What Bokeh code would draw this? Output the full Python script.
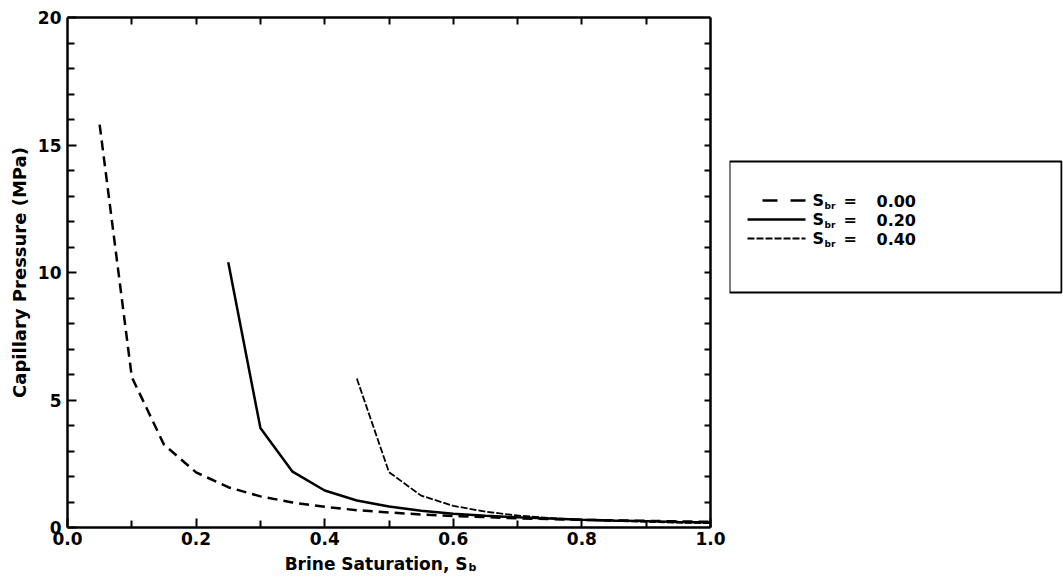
from bokeh.plotting import figure
from bokeh.layouts import row
from bokeh.models import Range1d, LinearAxis, FixedTicker, PrintfTickFormatter, Label
from bokeh.core.properties import value
from bokeh.embed import file_html
from bokeh.resources import INLINE

# ---------------- data ----------------
sat_00 = [0.05, 0.10, 0.15, 0.20, 0.25, 0.30, 0.35, 0.40, 0.45, 0.50,
          0.55, 0.60, 0.65, 0.70, 0.75, 0.80, 0.85, 0.90, 0.95, 1.00]
pc_00 = [15.8, 5.9, 3.25, 2.16, 1.58, 1.22, 0.98, 0.81, 0.68, 0.59,
         0.51, 0.45, 0.41, 0.36, 0.33, 0.30, 0.28, 0.26, 0.24, 0.22]

sat_20 = [0.25, 0.30, 0.35, 0.40, 0.45, 0.50, 0.55, 0.60, 0.65, 0.70,
          0.75, 0.80, 0.85, 0.90, 0.95, 1.00]
pc_20 = [10.4, 3.9, 2.19, 1.45, 1.06, 0.82, 0.66, 0.54, 0.46, 0.40,
         0.35, 0.30, 0.27, 0.25, 0.22, 0.20]

sat_40 = [0.45, 0.50, 0.55, 0.60, 0.65, 0.70, 0.75, 0.80, 0.85, 0.90, 0.95, 1.00]
pc_40 = [5.84, 2.17, 1.25, 0.85, 0.62, 0.47, 0.37, 0.30, 0.26, 0.22, 0.19, 0.17]

sbr_labels = ["0.00", "0.20", "0.40"]

x_ticks = [0.0, 0.2, 0.4, 0.6, 0.8, 1.0]
x_minor = [0.1, 0.3, 0.5, 0.7, 0.9]
x_all = [0.1, 0.2, 0.3, 0.4, 0.5, 0.6, 0.7, 0.8, 0.9]
y_ticks = [0, 5, 10, 15, 20]
y_minor = [1, 2, 3, 4, 6, 7, 8, 9, 11, 12, 13, 14, 16, 17, 18, 19]
y_all = [1, 2, 3, 4, 5, 6, 7, 8, 9, 10, 11, 12, 13, 14, 15, 16, 17, 18, 19]

FONT = "DejaVu Sans"

# ---------------- layout (page pixels) ----------------
X0_PX, X1_PX = 67, 710      # where x = 0 and x = 1 sit
Y0_PX, Y1_PX = 527, 17      # where y = 0 and y = 20 sit
FL, FR, FT, FB = 2, 726, 2, 574   # frame edges (the frame also holds the axis texts)
X_LO, X_HI, Y_LO, Y_HI = 0.0, 1.0, 0, 20
sx_px = (X1_PX - X0_PX) / (X_HI - X_LO)
sy_px = (Y0_PX - Y1_PX) / (Y_HI - Y_LO)
xr = Range1d(X_LO - (X0_PX - FL) / sx_px, X_HI + (FR - X1_PX) / sx_px)
yr_ = Range1d(Y_LO - (FB - Y0_PX) / sy_px, Y_HI + (Y1_PX - FT) / sy_px)

p = figure(output_backend="svg", toolbar_location=None,
           frame_width=FR - FL, frame_height=FB - FT,
           min_border_left=FL, min_border_right=2,
           min_border_top=FT, min_border_bottom=2,
           x_range=xr, y_range=yr_,
           x_axis_type=None, y_axis_type=None)
p.xgrid.visible = False
p.ygrid.visible = False
p.outline_line_color = None
p.background_fill_color = "white"
p.border_fill_color = "white"


def style_axis(ax):
    ax.axis_line_width = 2.5
    ax.axis_line_color = "black"
    ax.major_tick_in = 9
    ax.major_tick_out = 0
    ax.minor_tick_in = 7
    ax.minor_tick_out = 0
    ax.major_tick_line_width = 2
    ax.minor_tick_line_width = 2
    ax.major_label_text_font = FONT
    ax.major_label_text_font_style = "bold"
    ax.major_label_text_font_size = "17px"
    ax.major_label_text_color = "black"


xb = LinearAxis(ticker=FixedTicker(ticks=x_ticks, minor_ticks=x_minor),
                formatter=PrintfTickFormatter(format="%.1f"),
                fixed_location=Y_LO, bounds=(X_LO, X_HI))
style_axis(xb)
xb.major_label_standoff = 4
p.add_layout(xb, "below")

yl = LinearAxis(ticker=FixedTicker(ticks=y_ticks, minor_ticks=y_minor),
                fixed_location=X_LO, bounds=(Y_LO, Y_HI))
style_axis(yl)
yl.axis_label = "Capillary Pressure (MPa)"
yl.axis_label_text_font = FONT
yl.axis_label_text_font_style = "bold"
yl.axis_label_text_font_size = "18px"
yl.axis_label_text_color = "black"
yl.axis_label_standoff = 5
yl.major_label_standoff = 6
p.add_layout(yl, "left")

xt = LinearAxis(ticker=FixedTicker(ticks=[], minor_ticks=x_all),
                fixed_location=Y_HI, bounds=(X_LO, X_HI))
style_axis(xt)
p.add_layout(xt, "above")

yrt = LinearAxis(ticker=FixedTicker(ticks=[], minor_ticks=y_all),
                 fixed_location=X_HI, bounds=(Y_LO, Y_HI))
style_axis(yrt)
yrt.minor_tick_in = 6
p.add_layout(yrt, "right")

series = [
    (sat_00, pc_00, "10 6", 2.5),
    (sat_20, pc_20, "solid", 2.5),
    (sat_40, pc_40, "7 2", 1.8),
]
for sxv, syv, dash, lw in series:
    p.line(x=sxv, y=syv, line_color="black", line_width=lw, line_dash=dash)

# x-axis title with subscript (screen units from the frame's bottom-left)
p.add_layout(Label(x=467 - FL, y=FB - 563, x_units="screen", y_units="screen",
                   text="Brine Saturation, S", text_align="right",
                   text_baseline="alphabetic", text_font=FONT,
                   text_font_style="bold", text_font_size="17px",
                   text_color="black"))
p.add_layout(Label(x=468 - FL, y=FB - 567, x_units="screen", y_units="screen",
                   text="b", text_align="left",
                   text_baseline="alphabetic", text_font=FONT,
                   text_font_style="bold", text_font_size="11px",
                   text_color="black"))

# ---------------- legend panel ----------------
LG_W = 333
lg = figure(output_backend="svg", toolbar_location=None,
            frame_width=LG_W, frame_height=FB - FT,
            min_border_left=1, min_border_right=1,
            min_border_top=FT, min_border_bottom=2,
            x_range=Range1d(0, LG_W), y_range=Range1d(FB - FT, 0),
            x_axis_type=None, y_axis_type=None)
lg.xgrid.visible = False
lg.ygrid.visible = False
lg.outline_line_color = None
lg.border_fill_color = "white"
lg.background_fill_color = "white"

# legend box (page y 161..292)
lg.quad(left=[0], right=[LG_W - 1], top=[161 - FT], bottom=[292 - FT],
        fill_color=None, line_color="black", line_width=2)

rows_y = [200 - FT, 219 - FT, 238 - FT]
for (sxv, syv, dash, lw), ry in zip(series, rows_y):
    x0 = 33 if dash == "10 6" else 18
    lg.line(x=[x0, 76], y=[ry, ry], line_color="black", line_width=lw,
            line_dash=("15 13" if dash == "10 6" else dash))

lg.text(x=[83] * 3, y=rows_y, text=["S"] * 3, text_font=value(FONT),
        text_font_style="bold", text_font_size="16px",
        text_baseline="middle", text_align="left", text_color="black")
lg.text(x=[95] * 3, y=[r + 5 for r in rows_y], text=["br"] * 3, text_font=value(FONT),
        text_font_style="bold", text_font_size="9px",
        text_baseline="middle", text_align="left", text_color="black")
lg.text(x=[114] * 3, y=rows_y, text=["="] * 3, text_font=value(FONT),
        text_font_style="bold", text_font_size="16px",
        text_baseline="middle", text_align="left", text_color="black")
lg.text(x=[147] * 3, y=rows_y, text=sbr_labels, text_font=value(FONT),
        text_font_style="bold", text_font_size="16px",
        text_baseline="middle", text_align="left", text_color="black")

layout = row(p, lg, spacing=0)
open("out.html", "w").write(file_html(layout, INLINE))
